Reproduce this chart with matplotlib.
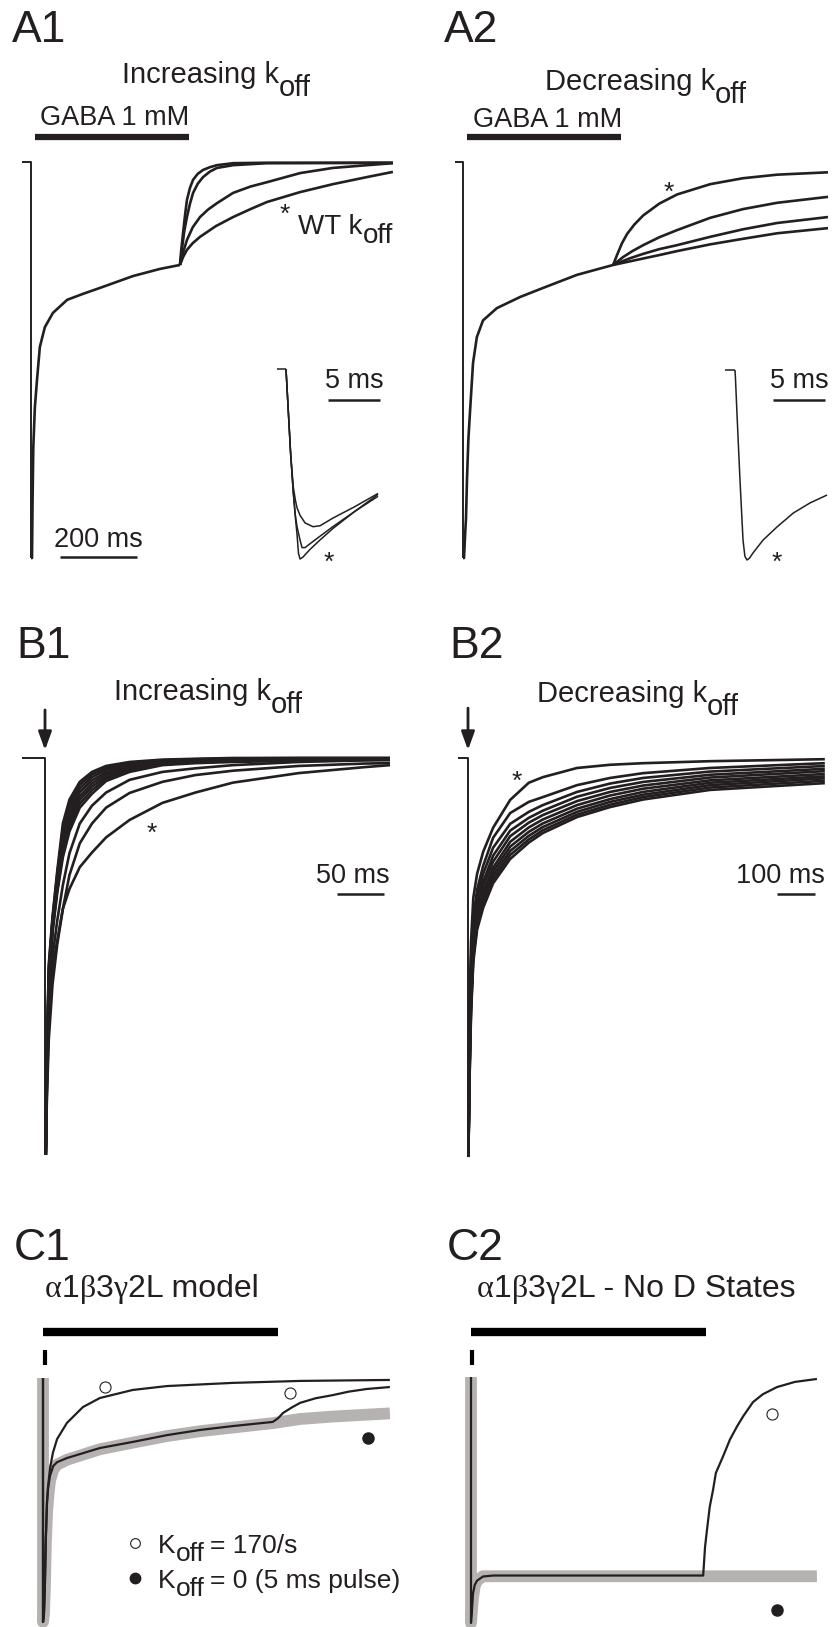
import matplotlib
matplotlib.use("Agg")
import matplotlib.pyplot as plt

# figure size in pixels (dpi 100)
W, H = 833, 1627

plt.rcParams['font.family'] = ['Liberation Sans', 'DejaVu Sans']

INK = '#231f20'
GREY = '#b7b2b2'

# ---------------- data (time in ms, current normalised to peak) ----------------
# A1: 400 ms GABA pulse, increasing koff
a1_rise_t = [0, 2.6, 4, 6, 10, 15.6, 23, 36, 57, 94, 135, 179, 265, 335, 387]
a1_rise_i = [-1.0, -1.0, -0.86, -0.72, -0.62, -0.55, -0.467, -0.417, -0.381, -0.348, -0.333, -0.318, -0.288, -0.270, -0.260]
a1_off1_t = [387, 390, 395, 400, 405, 413, 421, 433, 447, 465, 483, 525, 600, 940]
a1_off1_i = [-0.26, -0.225, -0.179, -0.135, -0.096, -0.065, -0.045, -0.030, -0.020, -0.013, -0.008, -0.003, -0.002, -0.002]
a1_off2_t = [387, 392, 398, 405, 413, 421, 433, 447, 465, 483, 525, 613, 940]
a1_off2_i = [-0.26, -0.22, -0.175, -0.139, -0.105, -0.078, -0.055, -0.038, -0.024, -0.015, -0.008, -0.003, -0.002]
a1_off3_t = [387, 393, 405, 420, 439, 460, 483, 525, 570, 613, 699, 784, 873, 940]
a1_off3_i = [-0.26, -0.235, -0.197, -0.165, -0.139, -0.12, -0.104, -0.078, -0.062, -0.051, -0.028, -0.015, -0.008, -0.003]
a1_off4_t = [387, 395, 405, 420, 439, 480, 525, 570, 613, 699, 784, 873, 940]
a1_off4_i = [-0.26, -0.24, -0.222, -0.205, -0.189, -0.162, -0.139, -0.119, -0.101, -0.076, -0.056, -0.038, -0.025]

# A1 inset (5 ms window around the peak)
a1_ins_deep_t = [0, 0.2, 0.45, 0.7, 0.9, 1.06, 1.2, 1.35, 1.63, 2.3, 3.27, 4.5, 6.6, 8.85]
a1_ins_deep_i = [0, -0.2, -0.45, -0.65, -0.78, -0.87, -0.97, -1.0, -0.99, -0.95, -0.90, -0.84, -0.75, -0.67]
a1_ins_mid_t = [0, 0.2, 0.45, 0.7, 0.9, 1.06, 1.35, 1.54, 1.83, 2.3, 3.27, 4.5, 6.6, 8.85]
a1_ins_mid_i = [0, -0.2, -0.45, -0.65, -0.77, -0.83, -0.90, -0.94, -0.94, -0.92, -0.88, -0.83, -0.75, -0.66]
a1_ins_low_t = [0, 0.2, 0.45, 0.7, 0.9, 1.06, 1.35, 1.83, 2.6, 3.27, 4.5, 6.6, 8.85]
a1_ins_low_i = [0, -0.2, -0.45, -0.62, -0.69, -0.73, -0.77, -0.81, -0.83, -0.825, -0.785, -0.725, -0.655]

# A2: decreasing koff
a2_rise_t = [0, 2.6, 5, 7.8, 10.4, 14, 18, 26, 36, 52, 88, 148, 208, 296, 390]
a2_rise_i = [-1.0, -1.0, -0.95, -0.90, -0.80, -0.70, -0.634, -0.508, -0.442, -0.40, -0.369, -0.341, -0.318, -0.285, -0.26]
a2_off1_t = [390, 400, 413, 426, 445, 468, 510, 556, 642, 727, 816, 948]
a2_off1_i = [-0.26, -0.235, -0.205, -0.182, -0.158, -0.135, -0.105, -0.082, -0.056, -0.041, -0.032, -0.026]
a2_off2_t = [390, 416, 440, 468, 510, 556, 642, 727, 816, 948]
a2_off2_i = [-0.26, -0.24, -0.225, -0.21, -0.19, -0.172, -0.141, -0.119, -0.103, -0.088]
a2_off3_t = [390, 434, 468, 510, 556, 642, 727, 816, 948]
a2_off3_i = [-0.26, -0.243, -0.232, -0.22, -0.21, -0.189, -0.170, -0.154, -0.139]
a2_off4_t = [390, 452, 510, 556, 642, 727, 816, 948]
a2_off4_i = [-0.26, -0.247, -0.235, -0.225, -0.208, -0.194, -0.180, -0.167]

a2_ins_t = [0, 0.05, 0.19, 0.48, 0.77, 0.95, 1.15, 1.4, 1.73, 2.7, 4.04, 5.6, 7.2, 8.85]
a2_ins_i = [0, -0.05, -0.23, -0.58, -0.895, -0.98, -1.0, -0.99, -0.963, -0.895, -0.826, -0.753, -0.70, -0.658]

# B1: brief pulse, increasing koff (shared time grid)
b1_t = [0.8, 2, 4, 8, 13, 19, 26, 37, 50, 65, 90, 125, 160, 200, 270, 340, 367]
b1_traces = [
    [-1, -0.75, -0.52, -0.40, -0.285, -0.165, -0.105, -0.06, -0.035, -0.02, -0.01, -0.004, -0.002, 0, 0, 0, 0],
    [-1, -0.757, -0.53, -0.405, -0.293, -0.178, -0.115, -0.068, -0.041, -0.025, -0.013, -0.006, -0.003, -0.001, 0, 0, 0],
    [-1, -0.764, -0.54, -0.41, -0.302, -0.19, -0.126, -0.077, -0.048, -0.030, -0.017, -0.008, -0.005, -0.003, -0.001, -0.001, -0.001],
    [-1, -0.771, -0.551, -0.416, -0.311, -0.203, -0.138, -0.086, -0.056, -0.036, -0.021, -0.010, -0.006, -0.004, -0.002, -0.001, -0.001],
    [-1, -0.779, -0.563, -0.422, -0.319, -0.214, -0.150, -0.096, -0.064, -0.041, -0.025, -0.012, -0.008, -0.005, -0.003, -0.002, -0.002],
    [-1, -0.786, -0.575, -0.428, -0.327, -0.227, -0.162, -0.105, -0.072, -0.047, -0.028, -0.014, -0.009, -0.007, -0.004, -0.003, -0.003],
    [-1, -0.793, -0.588, -0.434, -0.334, -0.238, -0.173, -0.115, -0.081, -0.052, -0.032, -0.016, -0.011, -0.008, -0.005, -0.004, -0.004],
    [-1, -0.80, -0.60, -0.44, -0.34, -0.25, -0.185, -0.125, -0.09, -0.058, -0.035, -0.018, -0.013, -0.010, -0.007, -0.005, -0.005],
    [-1, -0.82, -0.63, -0.50, -0.41, -0.32, -0.24, -0.165, -0.12, -0.087, -0.055, -0.035, -0.026, -0.018, -0.010, -0.006, -0.005],
    [-1, -0.84, -0.67, -0.53, -0.46, -0.38, -0.295, -0.215, -0.165, -0.125, -0.088, -0.060, -0.043, -0.032, -0.02, -0.014, -0.013],
    [-1, -0.86, -0.71, -0.57, -0.47, -0.38, -0.33, -0.275, -0.238, -0.20, -0.156, -0.113, -0.087, -0.062, -0.038, -0.023, -0.018],
]

# B2: brief pulse, decreasing koff
b2_t = [1, 4, 8, 14, 24, 40, 66, 111, 160, 197, 287, 374, 461, 637, 939]
b2_traces = [
    [-1, -0.62, -0.46, -0.35, -0.29, -0.235, -0.175, -0.105, -0.062, -0.048, -0.025, -0.017, -0.013, -0.008, -0.003],
    [-1, -0.68, -0.51, -0.40, -0.33, -0.27, -0.20, -0.138, -0.11, -0.098, -0.068, -0.050, -0.038, -0.025, -0.013],
    [-1, -0.71, -0.54, -0.42, -0.35, -0.29, -0.225, -0.165, -0.135, -0.118, -0.085, -0.064, -0.050, -0.034, -0.020],
    [-1, -0.73, -0.56, -0.44, -0.37, -0.31, -0.245, -0.182, -0.150, -0.132, -0.097, -0.075, -0.060, -0.042, -0.027],
    [-1, -0.75, -0.58, -0.46, -0.38, -0.32, -0.26, -0.196, -0.162, -0.143, -0.108, -0.085, -0.069, -0.049, -0.033],
    [-1, -0.77, -0.60, -0.47, -0.39, -0.335, -0.275, -0.21, -0.174, -0.154, -0.118, -0.094, -0.077, -0.056, -0.040],
    [-1, -0.78, -0.61, -0.48, -0.40, -0.345, -0.285, -0.222, -0.185, -0.164, -0.127, -0.103, -0.085, -0.062, -0.046],
    [-1, -0.79, -0.62, -0.49, -0.41, -0.355, -0.295, -0.233, -0.195, -0.173, -0.135, -0.110, -0.092, -0.068, -0.051],
    [-1, -0.80, -0.63, -0.50, -0.42, -0.365, -0.305, -0.243, -0.204, -0.181, -0.142, -0.117, -0.098, -0.074, -0.057],
    [-1, -0.81, -0.64, -0.51, -0.43, -0.375, -0.314, -0.253, -0.212, -0.188, -0.148, -0.123, -0.104, -0.080, -0.063],
]

# C1: a1b3g2L model, 500 ms bar
c1_open_t = [0, 0, 2, 4, 6, 8.5, 10.6, 15, 21, 30, 51, 85, 121, 191, 264, 404, 547, 738]
c1_open_i = [0, -1, -0.97, -0.85, -0.66, -0.51, -0.447, -0.37, -0.307, -0.25, -0.184, -0.119, -0.082, -0.049, -0.033, -0.020, -0.012, -0.008]
c1_long_t = [0, 0, 2, 4, 6, 8.5, 11, 15, 22, 30, 51, 121, 191, 264, 334, 404, 489, 500, 511, 530, 547, 580, 617, 650, 689, 738]
c1_long_i = [0, -1, -0.97, -0.85, -0.66, -0.51, -0.45, -0.40, -0.36, -0.345, -0.328, -0.287, -0.262, -0.234, -0.213, -0.197, -0.180, -0.165, -0.143, -0.12, -0.102, -0.083, -0.070, -0.056, -0.045, -0.037]
c1_zero_t = [0, 0, 2, 4, 6, 9, 12, 15, 22, 30, 51, 121, 191, 264, 334, 404, 489, 547, 617, 738]
c1_zero_i = [0, -1, -0.97, -0.86, -0.68, -0.54, -0.47, -0.42, -0.375, -0.355, -0.335, -0.292, -0.265, -0.238, -0.218, -0.203, -0.185, -0.168, -0.158, -0.145]
c1_open_pts_t = [132, 526]
c1_open_pts_i = [-0.037, -0.061]
c1_fill_pts_t = [691]
c1_fill_pts_i = [-0.246]

# C2: no desensitised states
c2_open_t = [0, 0, 2, 4.3, 8, 12.8, 25.5, 47, 494, 498, 502, 508, 515, 521, 536, 551, 566, 579, 600, 621, 651, 689, 736]
c2_open_i = [0, -1, -0.95, -0.88, -0.845, -0.828, -0.811, -0.807, -0.807, -0.69, -0.623, -0.527, -0.459, -0.39, -0.324, -0.254, -0.201, -0.16, -0.102, -0.07, -0.041, -0.02, -0.008]
c2_zero_t = [0, 0, 2, 4, 8, 12, 25, 736]
c2_zero_i = [0, -1, -0.95, -0.9, -0.85, -0.83, -0.81, -0.81]
c2_open_pts_t = [640]
c2_open_pts_i = [-0.152]
c2_fill_pts_t = [651]
c2_fill_pts_i = [-0.947]

fig = plt.figure(figsize=(W / 100, H / 100), dpi=100)
renderer = fig.canvas.get_renderer()


def px_axes(x0, y0, sx, sy, xlim, ylim):
    # x0,y0: pixel of (t=0, I=0); sx px per ms; sy px per unit current
    left = x0 + sx * xlim[0]
    right = x0 + sx * xlim[1]
    top = y0 - sy * ylim[1]
    bottom = y0 - sy * ylim[0]
    ax = fig.add_axes([left / W, 1 - bottom / H, (right - left) / W, (bottom - top) / H])
    ax.set_xlim(xlim)
    ax.set_ylim(ylim)
    ax.set_axis_off()
    return ax


def ftext(x, y, s, size, **kw):
    return fig.text(x / W, 1 - y / H, s, fontsize=size, color=INK, **kw)


def rich_text(x, y, parts, size, ha='left'):
    # parts: (text, drop_px, gap_px[, family])
    objs = []
    for p in parts:
        fam = p[3] if len(p) > 3 else ['Liberation Sans', 'DejaVu Sans']
        objs.append(fig.text(0, 0, p[0], fontsize=size, color=INK, va='baseline', family=fam))
    widths = [o.get_window_extent(renderer).width for o in objs]
    total = sum(widths) + sum(p[2] for p in parts)
    xs = x - total / 2 if ha == 'center' else x
    for o, w, p in zip(objs, widths, parts):
        xs += p[2]
        o.set_position((xs / W, 1 - (y + p[1]) / H))
        xs += w


def trace(ax, t, i, lw=1.9, color=INK, **kw):
    ax.plot(t, i, color=color, lw=lw, solid_joinstyle='round', solid_capstyle='butt', clip_on=False, **kw)


def scalebar(ax, t0, t1, i, label, size=19.5, ha='center', tx=None, ti=None):
    ax.plot([t0, t1], [i, i], color=INK, lw=1.8, solid_capstyle='butt', clip_on=False)
    ax.text((t0 + t1) / 2 if tx is None else tx, ti, label, fontsize=size, color=INK,
            ha=ha, va='baseline', clip_on=False)


SERIF = ['Liberation Serif', 'DejaVu Serif']
LABEL = 32
TITLE = 21

# ---------------- A1 ----------------
ax = px_axes(31, 162, 0.385, 396, (-60, 960), (-1.05, 0.2))
trace(ax, [-23.4, 0, 0], [0, 0, -1.0], lw=1.4)
trace(ax, a1_rise_t, a1_rise_i)
for t, i in [(a1_off1_t, a1_off1_i), (a1_off2_t, a1_off2_i), (a1_off3_t, a1_off3_i), (a1_off4_t, a1_off4_i)]:
    trace(ax, t, i)
ax.plot([10.4, 410], [0.063, 0.063], color=INK, lw=4.5, solid_capstyle='butt', clip_on=False)
scalebar(ax, 75, 275, -0.997, '200 ms', ti=-0.972)

ax = px_axes(286, 369, 10.4, 190, (-1.2, 9.5), (-1.05, 0.1))
trace(ax, [-0.87, 0], [0, 0], lw=1.1)
for t, i in [(a1_ins_deep_t, a1_ins_deep_i), (a1_ins_mid_t, a1_ins_mid_i), (a1_ins_low_t, a1_ins_low_i)]:
    trace(ax, t, i, lw=1.1)
scalebar(ax, 4.04, 9.04, -0.163, '5 ms', ti=-0.1)

ftext(12, 42, 'A1', LABEL, va='baseline')
rich_text(216, 83, [('Increasing k', 0, 0), ('off', 13, 0)], TITLE, ha='center')
ftext(115, 125, 'GABA 1 mM', 19.5, ha='center', va='baseline')
ftext(285, 215, '*', 19, ha='center', va='center')
rich_text(298, 234, [('WT k', 0, 0), ('off', 9, 0)], 20)

# ---------------- A2 ----------------
ax = px_axes(463, 162, 0.385, 396, (-60, 960), (-1.05, 0.2))
trace(ax, [-20.8, 0, 0], [0, 0, -1.0], lw=1.4)
trace(ax, a2_rise_t, a2_rise_i)
for t, i in [(a2_off1_t, a2_off1_i), (a2_off2_t, a2_off2_i), (a2_off3_t, a2_off3_i), (a2_off4_t, a2_off4_i)]:
    trace(ax, t, i)
ax.plot([10.4, 410], [0.063, 0.063], color=INK, lw=4.5, solid_capstyle='butt', clip_on=False)

ax = px_axes(735, 370, 10.4, 190, (-1.2, 9.5), (-1.05, 0.1))
trace(ax, [-0.96, 0], [0, 0], lw=1.1)
trace(ax, a2_ins_t, a2_ins_i, lw=1.1)
scalebar(ax, 3.65, 8.65, -0.158, '5 ms', ti=-0.095)

ftext(444, 42, 'A2', LABEL, va='baseline')
rich_text(646, 90, [('Decreasing k', 0, 0), ('off', 13, 0)], TITLE, ha='center')
ftext(548, 127, 'GABA 1 mM', 19.5, ha='center', va='baseline')
ftext(669, 193, '*', 19, ha='center', va='center')
ftext(329, 563, '*', 19, ha='center', va='center')
ftext(777, 563, '*', 19, ha='center', va='center')

# ---------------- B1 ----------------
ax = px_axes(45, 758, 0.94, 397, (-30, 375), (-1.02, 0.15))
trace(ax, [-24.5, 0, 0], [0, 0, -1.0], lw=1.4)
for tr in b1_traces:
    trace(ax, b1_t, tr)
ax.annotate('', xy=(0, 0.02), xytext=(0, 0.121),
            arrowprops=dict(arrowstyle='-|>,head_length=0.55,head_width=0.2', color=INK, lw=2,
                            shrinkA=0, shrinkB=0, mutation_scale=20))
scalebar(ax, 310.6, 360.6, -0.343, '50 ms', tx=327, ti=-0.315)
ftext(16, 658, 'B1', LABEL, va='baseline')
rich_text(208, 700, [('Increasing k', 0, 0), ('off', 13, 0)], TITLE, ha='center')
ftext(152, 834, '*', 19, ha='center', va='center')

# ---------------- B2 ----------------
ax = px_axes(468, 758, 0.38, 399, (-60, 960), (-1.02, 0.15))
trace(ax, [-26, 0, 0], [0, 0, -1.0], lw=1.4)
for tr in b2_traces:
    trace(ax, b2_t, tr)
ax.annotate('', xy=(0, 0.02), xytext=(0, 0.125),
            arrowprops=dict(arrowstyle='-|>,head_length=0.55,head_width=0.2', color=INK, lw=2,
                            shrinkA=0, shrinkB=0, mutation_scale=20))
scalebar(ax, 813, 913, -0.341, '100 ms', ha='right', tx=939, ti=-0.313)
ftext(449, 658, 'B2', LABEL, va='baseline')
rich_text(638, 702, [('Decreasing k', 0, 0), ('off', 13, 0)], TITLE, ha='center')
ftext(517, 782, '*', 19, ha='center', va='center')

# ---------------- C1 ----------------
ax = px_axes(43, 1378, 0.47, 244, (-20, 760), (-1.02, 0.25))
trace(ax, c1_zero_t, c1_zero_i, lw=8.5, color=GREY)
trace(ax, c1_long_t, c1_long_i, lw=1.6)
trace(ax, c1_open_t, c1_open_i, lw=1.6)
ax.plot([0, 500], [0.188, 0.188], color='k', lw=6, solid_capstyle='butt', clip_on=False)
ax.plot([4, 4], [0.053, 0.115], color='k', lw=3, solid_capstyle='butt', clip_on=False)
ax.plot(c1_open_pts_t, c1_open_pts_i, 'o', ms=8, mfc='white', mec=INK, mew=0.8, clip_on=False)
ax.plot(c1_fill_pts_t, c1_fill_pts_i, 'o', ms=8, mfc=INK, mec=INK, clip_on=False)
ax.plot([196], [-0.676], 'o', ms=7, mfc='white', mec=INK, mew=0.8, clip_on=False)
ax.plot([196], [-0.82], 'o', ms=7.5, mfc=INK, mec=INK, clip_on=False)
rich_text(158, 1553, [('K', 0, 0), ('off', 8, 0), ('= 170/s', 0, 6)], 19)
rich_text(158, 1588, [('K', 0, 0), ('off', 8, 0), ('= 0 (5 ms pulse)', 0, 6)], 19)
ftext(14, 1260, 'C1', LABEL, va='baseline')
rich_text(45, 1297, [('α', 0, 0, SERIF), ('1', 0, 0), ('β', 0, 0, SERIF), ('3', 0, 0),
                     ('γ', 0, 0, SERIF), ('2L model', 0, 0)], 23)

# ---------------- C2 ----------------
ax = px_axes(471, 1377, 0.47, 246, (-20, 760), (-1.02, 0.25))
trace(ax, c2_zero_t, c2_zero_i, lw=8.5, color=GREY)
trace(ax, c2_open_t, c2_open_i, lw=1.6)
ax.plot([0, 500], [0.183, 0.183], color='k', lw=6, solid_capstyle='butt', clip_on=False)
ax.plot([1.5, 1.5], [0.049, 0.110], color='k', lw=3, solid_capstyle='butt', clip_on=False)
ax.plot(c2_open_pts_t, c2_open_pts_i, 'o', ms=8, mfc='white', mec=INK, mew=0.8, clip_on=False)
ax.plot(c2_fill_pts_t, c2_fill_pts_i, 'o', ms=8, mfc=INK, mec=INK, clip_on=False)
ftext(447, 1260, 'C2', LABEL, va='baseline')
rich_text(477, 1297, [('α', 0, 0, SERIF), ('1', 0, 0), ('β', 0, 0, SERIF), ('3', 0, 0),
                      ('γ', 0, 0, SERIF), ('2L - No D States', 0, 0)], 23)

fig.savefig('out.png', dpi=100)
